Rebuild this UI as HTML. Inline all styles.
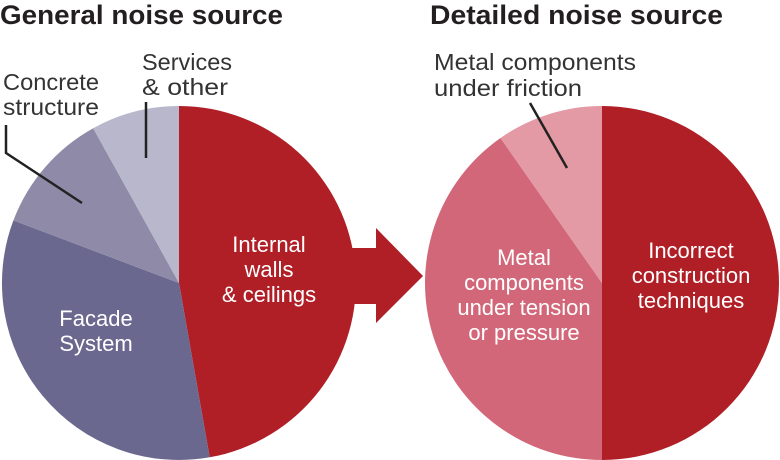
<!DOCTYPE html>
<html><head><meta charset="utf-8"><style>
html,body{margin:0;padding:0;background:#fff;}
svg{display:block;font-family:"Liberation Sans",sans-serif;}
</style></head><body>
<svg width="780" height="460" viewBox="0 0 780 460" xmlns="http://www.w3.org/2000/svg">
<g>
<path d="M179 283 L179 106 A177 177 0 0 1 209.7 457.3 Z" fill="#b01e26"/>
<path d="M179 283 L209.7 457.3 A177 177 0 0 1 13.4 220.4 Z" fill="#6b6890"/>
<path d="M179 283 L13.4 220.4 A177 177 0 0 1 93.2 128.2 Z" fill="#8e8aa8"/>
<path d="M179 283 L93.2 128.2 A177 177 0 0 1 179 106 Z" fill="#b9b7cc"/>
</g>
<path d="M345 248 L376 248 L376 228 L423 276 L376 323 L376 304 L345 304 Z" fill="#b01e26"/>
<g>
<path d="M602 283 L602 106 A177 177 0 0 1 602 460 Z" fill="#b01e26"/>
<path d="M602 283 L602 460 A177 177 0 0 1 500.5 138 Z" fill="#d3677a"/>
<path d="M602 283 L500.5 138 A177 177 0 0 1 602 106 Z" fill="#e39aa5"/>
</g>
<g stroke="#222" stroke-width="2.5" fill="none">
<path d="M6 125 L6 153 L82 203"/>
<path d="M146 102 L146 158"/>
<path d="M530 103 L567 168"/>
</g>
<g font-weight="bold" font-size="27" fill="#231f20">
<text x="0" y="24" textLength="283" lengthAdjust="spacingAndGlyphs">General noise source</text>
<text x="430" y="24" textLength="293" lengthAdjust="spacingAndGlyphs">Detailed noise source</text>
</g>
<g font-size="23" fill="#333">
<text x="3" y="90" textLength="96" lengthAdjust="spacingAndGlyphs">Concrete</text>
<text x="3" y="115" textLength="96" lengthAdjust="spacingAndGlyphs">structure</text>
<text x="142" y="70" textLength="90" lengthAdjust="spacingAndGlyphs">Services</text>
<text x="142" y="95" textLength="86" lengthAdjust="spacingAndGlyphs">&amp; other</text>
<text x="434" y="70" textLength="202" lengthAdjust="spacingAndGlyphs">Metal components</text>
<text x="434" y="96" textLength="148" lengthAdjust="spacingAndGlyphs">under friction</text>
</g>
<g font-size="22" fill="#fff" text-anchor="middle">
<text x="269" y="252">Internal</text>
<text x="269" y="277">walls</text>
<text x="269" y="302">&amp; ceilings</text>
<text x="96" y="326">Facade</text>
<text x="96" y="351">System</text>
<text x="524" y="265">Metal</text>
<text x="524" y="290">components</text>
<text x="524" y="315">under tension</text>
<text x="524" y="340">or pressure</text>
<text x="691" y="258">Incorrect</text>
<text x="691" y="283">construction</text>
<text x="691" y="308">techniques</text>
</g>
</svg>
</body></html>
